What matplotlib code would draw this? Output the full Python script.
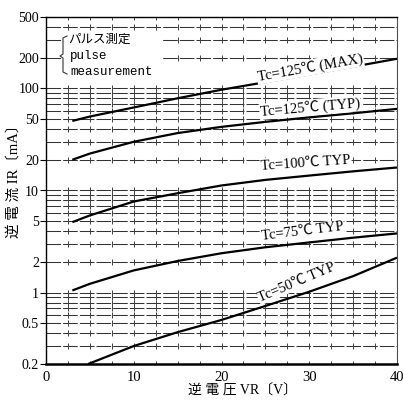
import matplotlib
matplotlib.use('Agg')
import matplotlib.pyplot as plt
import numpy as np
from matplotlib.patches import Rectangle

# ---- data ----
vr_125max = [3, 5, 10, 15, 20, 25, 30, 35, 40]
ir_125max = [48, 53, 65, 80, 97, 115, 137, 163, 195]
vr_125typ = [3, 5, 10, 15, 20, 25, 30, 35, 40]
ir_125typ = [20, 23, 30, 36.5, 42, 47, 52, 57, 63]
vr_100typ = [3, 5, 10, 15, 20, 25, 30, 35, 40]
ir_100typ = [4.9, 5.7, 7.8, 9.4, 11.2, 12.7, 14.0, 15.4, 16.8]
vr_75typ = [3, 5, 10, 15, 20, 25, 30, 35, 40]
ir_75typ = [1.05, 1.22, 1.65, 2.04, 2.43, 2.78, 3.1, 3.45, 3.8]
vr_50typ = [4.8, 10, 15, 20, 25, 30, 35, 40]
ir_50typ = [0.2, 0.3, 0.41, 0.54, 0.74, 1.02, 1.45, 2.2]

curve_labels = ["Tc=125℃ (MAX)", "Tc=125℃ (TYP)", "Tc=100℃ TYP", "Tc=75℃ TYP", "Tc=50℃ TYP"]

ytick_vals = [0.2, 0.5, 1, 2, 5, 10, 20, 50, 100, 200, 500]
ytick_labels = ['0.2', '0.5', '1', '2', '5', '10', '20', '50', '100', '200', '500']
xtick_vals = [0, 10, 20, 30, 40]
xtick_labels = ['0', '10', '20', '30', '40']

xlabel = "逆 電 圧 VR〔V〕"
ylabel = "逆 電 流 IR〔mA〕"
note_jp = "パルス測定"
note_en1 = "pulse"
note_en2 = "measurement"

SERIF = ['Liberation Serif', 'Noto Sans CJK JP', 'DejaVu Sans']
JP = ['Noto Sans CJK JP', 'DejaVu Sans']

W, H = 403, 405
fig = plt.figure(figsize=(W / 100, H / 100), dpi=100)
L, R, T, B = 46, 397, 17, 364
ax = fig.add_axes([L / W, 1 - B / H, (R - L) / W, (B - T) / H])

ax.set_yscale('log')
ax.set_xlim(0, 40)
ax.set_ylim(0.2, 500)
ax.set_axisbelow(True)

# grid values: 1..9 per decade
grid_vals = []
for d in [0.1, 1, 10, 100]:
    for m in range(1, 10):
        v = round(m * d, 6)
        if 0.2 <= v <= 500:
            grid_vals.append(v)
minor_vals = [v for v in grid_vals if v not in ytick_vals]

ax.set_yticks(ytick_vals, labels=ytick_labels)
ax.set_yticks(minor_vals, minor=True)
ax.set_xticks(xtick_vals, labels=xtick_labels)
ax.grid(True, which='both', axis='y', color='0.2', lw=0.75, ls=(0, (14, 2)))
ax.tick_params(axis='y', which='major', direction='out', length=4, width=0.8, pad=1,
               labelsize=10)
ax.tick_params(axis='y', which='minor', length=0)
ax.tick_params(axis='x', which='major', direction='in', length=0, pad=5, labelsize=10.5)
for lab in ax.get_yticklabels() + ax.get_xticklabels():
    lab.set_family(SERIF)

# small crosses on the grid lines (dotted vertical grid)
xs = np.arange(2.5, 40, 2.5)
gx, gy = np.meshgrid(xs, grid_vals)
ax.plot(gx.ravel(), gy.ravel(), ls='none', marker='|', ms=4, mew=0.7, color='0.25', zorder=0.8)

for s in ['left', 'top']:
    ax.spines[s].set_linewidth(1.0)
ax.spines['right'].set_linewidth(0.8)
ax.spines['right'].set_color('0.3')
ax.spines['bottom'].set_linewidth(1.8)

# curves
for vx, iy in [(vr_125max, ir_125max), (vr_125typ, ir_125typ), (vr_100typ, ir_100typ),
               (vr_75typ, ir_75typ), (vr_50typ, ir_50typ)]:
    ax.plot(vx, iy, color='black', lw=1.6, solid_capstyle='butt', zorder=3, clip_on=True)

# curve labels
label_pos = [(30.1, 160, 10), (30.1, 65, 5), (29.6, 18.7, 4), (29.2, 3.94, 7), (28.6, 1.27, 23)]
for txt, (x, y, rot) in zip(curve_labels, label_pos):
    ax.text(x, y, txt, ha='center', va='center', rotation=rot, rotation_mode='anchor',
            fontsize=10.5, family=SERIF, zorder=4,
            bbox=dict(fc='white', ec='none', pad=0.6))

# note box
def px2ax(px, py):
    return (px - L) / (R - L), (B - py) / (B - T)

x0, y0 = px2ax(63, 80)
x1, y1 = px2ax(162, 32)
ax.add_patch(Rectangle((x0, y0), x1 - x0, y1 - y0, transform=ax.transAxes,
                       fc='white', ec='none', zorder=1))
bx = [px2ax(p[0], p[1]) for p in [(67, 36), (63, 38), (63, 54), (60, 56), (63, 58), (63, 72), (67, 74)]]
ax.plot([p[0] for p in bx], [p[1] for p in bx], transform=ax.transAxes, color='0.2', lw=0.8, zorder=2)
tx, ty = px2ax(68, 39)
ax.text(tx, ty, note_jp, transform=ax.transAxes, ha='left', va='center', fontsize=9,
        family=JP, zorder=4)
tx, ty = px2ax(70, 56)
ax.text(tx, ty, note_en1, transform=ax.transAxes, ha='left', va='center', fontsize=9,
        family=['Liberation Mono', 'DejaVu Sans Mono'], zorder=4)
tx, ty = px2ax(70, 72)
ax.text(tx, ty, note_en2, transform=ax.transAxes, ha='left', va='center', fontsize=9,
        family=['Liberation Mono', 'DejaVu Sans Mono'], zorder=4)

# axis titles
fig.text(243 / W, 1 - 391 / H, xlabel, ha='center', va='center', fontsize=10, family=SERIF)
fig.text(14 / W, 1 - 178 / H, ylabel, ha='center', va='center', rotation=90, fontsize=10.5,
         family=SERIF)

fig.savefig('out.png', dpi=100)
